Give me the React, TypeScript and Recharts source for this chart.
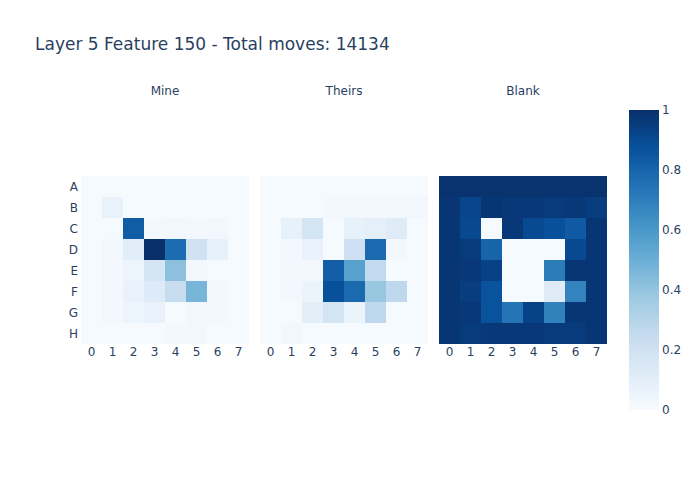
import { BarChart, Bar, ReferenceArea, Scatter, ScatterChart, XAxis, YAxis } from 'recharts'

const ROWS = ['A', 'B', 'C', 'D', 'E', 'F', 'G', 'H']
const COLS = [0, 1, 2, 3, 4, 5, 6, 7]
const CB_TICKS = [0, 0.2, 0.4, 0.6, 0.8, 1]

// rows A..H, cols 0..7
const MINE = [
  [0.01, 0.01, 0.01, 0.01, 0.01, 0.01, 0.01, 0.01],
  [0.01, 0.07, 0.01, 0.01, 0.01, 0.01, 0.01, 0.01],
  [0.01, 0.01, 0.83, 0.02, 0.03, 0.02, 0.03, 0.01],
  [0.01, 0.02, 0.11, 1.0, 0.77, 0.2, 0.08, 0.01],
  [0.01, 0.02, 0.05, 0.17, 0.42, 0.02, 0.01, 0.01],
  [0.01, 0.02, 0.07, 0.13, 0.24, 0.47, 0.02, 0.01],
  [0.01, 0.02, 0.05, 0.07, 0.01, 0.03, 0.02, 0.01],
  [0.01, 0.01, 0.01, 0.01, 0.02, 0.03, 0.01, 0.01],
]
const THEIRS = [
  [0.01, 0.01, 0.01, 0.01, 0.01, 0.01, 0.01, 0.01],
  [0.01, 0.01, 0.01, 0.02, 0.02, 0.02, 0.02, 0.03],
  [0.01, 0.08, 0.18, 0.01, 0.08, 0.09, 0.12, 0.01],
  [0.01, 0.02, 0.07, 0.01, 0.21, 0.78, 0.03, 0.01],
  [0.01, 0.02, 0.03, 0.82, 0.56, 0.26, 0.01, 0.01],
  [0.01, 0.02, 0.06, 0.88, 0.78, 0.39, 0.27, 0.01],
  [0.01, 0.01, 0.1, 0.18, 0.06, 0.27, 0.01, 0.01],
  [0.01, 0.03, 0.01, 0.01, 0.01, 0.01, 0.01, 0.01],
]
const BLANK = [
  [0.99, 0.99, 0.99, 0.99, 0.99, 0.99, 0.99, 0.99],
  [0.98, 0.92, 0.98, 0.97, 0.97, 0.96, 0.97, 0.95],
  [0.98, 0.91, 0.01, 0.97, 0.9, 0.88, 0.84, 0.98],
  [0.98, 0.96, 0.8, 0.01, 0.01, 0.01, 0.9, 0.98],
  [0.98, 0.97, 0.93, 0.01, 0.01, 0.71, 0.98, 0.98],
  [0.98, 0.95, 0.87, 0.01, 0.01, 0.12, 0.68, 0.98],
  [0.98, 0.97, 0.87, 0.74, 0.93, 0.69, 0.98, 0.98],
  [0.98, 0.96, 0.97, 0.97, 0.97, 0.96, 0.96, 0.98],
]

const BLUES: [number, number[]][] = [
  [0, [247, 251, 255]],
  [0.125, [222, 235, 247]],
  [0.25, [198, 219, 239]],
  [0.375, [158, 202, 225]],
  [0.5, [107, 174, 214]],
  [0.625, [66, 146, 198]],
  [0.75, [33, 113, 181]],
  [0.875, [8, 81, 156]],
  [1, [8, 48, 107]],
]

function blues(v: number) {
  const t = Math.max(0, Math.min(1, v))
  for (let i = 1; i < BLUES.length; i++) {
    const [p1, c1] = BLUES[i]
    const [p0, c0] = BLUES[i - 1]
    if (t <= p1) {
      const f = (t - p0) / (p1 - p0)
      const c = c0.map((a, k) => Math.round(a + (c1[k] - a) * f))
      return `rgb(${c[0]},${c[1]},${c[2]})`
    }
  }
  return 'rgb(8,48,107)'
}

const FONT = '"DejaVu Sans", sans-serif'
const TEXT = '#2a3f5f'
const tick = { fill: TEXT, fontSize: 12, fontFamily: FONT }

function Panel({ grid, left, showY }: { grid: number[][]; left: number; showY: boolean }) {
  const points = grid.flatMap((row, r) => row.map((v, c) => ({ x: c, y: r, v })))
  return (
    <div style={{ position: 'absolute', left, top: 170 }}>
      <ScatterChart
        width={showY ? 200 : 180}
        height={200}
        margin={{ top: 6, right: 7, left: showY ? 0 : 5, bottom: 0 }}
      >
        <XAxis
          type="number"
          dataKey="x"
          domain={[-0.5, 7.5]}
          ticks={COLS}
          axisLine={false}
          tickLine={false}
          tickSize={0}
          tickMargin={3}
          height={26}
          tick={tick}
          allowDataOverflow
        />
        <YAxis
          type="number"
          dataKey="y"
          domain={[-0.5, 7.5]}
          ticks={COLS}
          reversed
          hide={!showY}
          axisLine={false}
          tickLine={false}
          tickSize={0}
          tickMargin={3}
          width={25}
          tick={tick}
          tickFormatter={(i: number) => ROWS[i]}
          allowDataOverflow
        />
        {points.map((p) => (
          <ReferenceArea
            key={`${p.x}-${p.y}`}
            x1={p.x - 0.5}
            x2={p.x + 0.5}
            y1={p.y - 0.5}
            y2={p.y + 0.5}
            fill={blues(p.v)}
            fillOpacity={1}
            stroke="none"
          />
        ))}
        <Scatter data={points} fill="none" shape={() => <g />} isAnimationActive={false} />
      </ScatterChart>
    </div>
  )
}

function ColorBar() {
  return (
    <div style={{ position: 'absolute', left: 629, top: 100 }}>
      <BarChart
        width={70}
        height={320}
        data={[{ name: 'cb', v: 1 }]}
        margin={{ top: 10, right: 0, left: 0, bottom: 10 }}
        barCategoryGap={0}
      >
        <defs>
          <linearGradient id="cbGrad" x1="0" y1="0" x2="0" y2="1">
            {BLUES.slice()
              .reverse()
              .map(([p, c]) => (
                <stop key={p} offset={`${(1 - p) * 100}%`} stopColor={`rgb(${c.join(',')})`} />
              ))}
          </linearGradient>
        </defs>
        <XAxis dataKey="name" hide />
        <YAxis
          orientation="right"
          domain={[0, 1]}
          ticks={CB_TICKS}
          axisLine={false}
          tickLine={false}
          tickSize={0}
          tickMargin={3}
          width={40}
          tick={tick}
        />
        <Bar dataKey="v" fill="url(#cbGrad)" isAnimationActive={false} />
      </BarChart>
    </div>
  )
}

export default function App() {
  return (
    <div
      style={{
        position: 'absolute',
        left: 0,
        top: 0,
        width: 700,
        height: 500,
        background: '#fff',
        fontFamily: FONT,
      }}
    >
      <svg width={700} height={500} style={{ position: 'absolute', left: 0, top: 0 }}>
        <text x={35} y={50} fontSize={17} fill={TEXT} fontFamily={FONT}>
          Layer 5 Feature 150 - Total moves: 14134
        </text>
        <text x={165} y={95} fontSize={12} fill={TEXT} fontFamily={FONT} textAnchor="middle">
          Mine
        </text>
        <text x={344} y={95} fontSize={12} fill={TEXT} fontFamily={FONT} textAnchor="middle">
          Theirs
        </text>
        <text x={523} y={95} fontSize={12} fill={TEXT} fontFamily={FONT} textAnchor="middle">
          Blank
        </text>
      </svg>
      <Panel grid={MINE} left={56} showY />
      <Panel grid={THEIRS} left={255} showY={false} />
      <Panel grid={BLANK} left={434} showY={false} />
      <ColorBar />
    </div>
  )
}
